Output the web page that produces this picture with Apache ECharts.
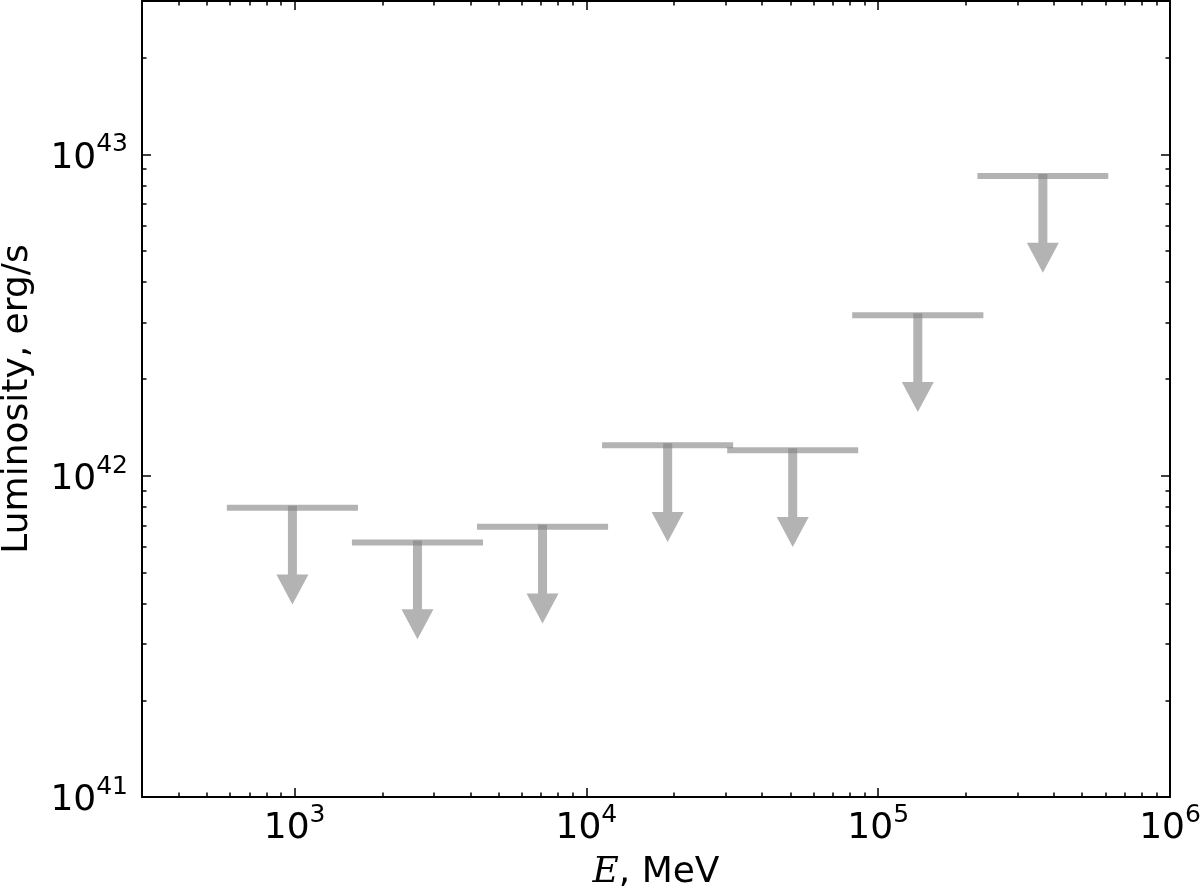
<!DOCTYPE html>
<html>
<head>
<meta charset="utf-8">
<script src="https://cdn.jsdelivr.net/npm/echarts@6/dist/echarts.min.js"></script>
<style>
html,body{margin:0;padding:0;background:#fff;}
#chart{width:1200px;height:889px;}
</style>
</head>
<body>
<div id="chart"></div>
<script>
// ---- data ----
const E_CENTER = [983, 2637, 7075, 18990, 50940, 136700, 366700];      // MeV
const E_LOW    = [600, 1610, 4320, 11590, 31100, 83400, 224000];        // MeV
const E_HIGH   = [1610, 4320, 11590, 31100, 83400, 224000, 600000];     // MeV
const L_UPPER  = [7.94e41, 6.19e41, 6.93e41, 1.244e42, 1.20e42, 3.155e42, 8.56e42]; // erg/s

const X_MAJOR = [1e3, 1e4, 1e5, 1e6];
const X_MINOR = [400,500,600,700,800,900, 2e3,3e3,4e3,5e3,6e3,7e3,8e3,9e3,
                 2e4,3e4,4e4,5e4,6e4,7e4,8e4,9e4, 2e5,3e5,4e5,5e5,6e5,7e5,8e5,9e5];
const Y_MAJOR = [1e41, 1e42, 1e43];
const Y_MINOR = [2e41,3e41,4e41,5e41,6e41,7e41,8e41,9e41, 2e42,3e42,4e42,5e42,6e42,7e42,8e42,9e42, 2e43,3e43];

const X_MIN = 300, X_MAX = 1e6, Y_MIN = 1e41, Y_MAX = 3e43;
const ARROW_FACTOR = 0.5;

const FONT = 'DejaVu Sans';
const data = E_CENTER.map((e, i) => [e, L_UPPER[i], E_LOW[i], E_HIGH[i]]);

const supRich = {
  b: {fontSize: 36, fontFamily: FONT, color: '#000', verticalAlign: 'bottom', lineHeight: 44},
  s: {fontSize: 25, fontFamily: FONT, color: '#000', verticalAlign: 'top', lineHeight: 20}
};
const fmt = v => '{b|10}{s|' + Math.round(Math.log10(v)) + '}';

function xAxis(pos, values, len, withLabel, showLine) {
  return {
    type: 'log', logBase: 10, min: X_MIN, max: X_MAX, position: pos,
    axisLine: {show: showLine, onZero: false, lineStyle: {color: '#000', width: 2}},
    axisTick: {show: true, inside: true, length: len, customValues: values, lineStyle: {color: '#000', width: 1.5}},
    axisLabel: withLabel ? {show: true, customValues: X_MAJOR, formatter: fmt, rich: supRich, margin: 6} : {show: false},
    splitLine: {show: false}, minorTick: {show: false},
    name: withLabel ? '{it|E}{n|, MeV}' : '',
    nameLocation: 'middle', nameGap: 58,
    nameTextStyle: {rich: {
      it: {fontFamily: 'DejaVu Serif', fontStyle: 'italic', fontSize: 36, color: '#000'},
      n: {fontFamily: FONT, fontSize: 36, color: '#000'}
    }}
  };
}
function yAxis(pos, values, len, withLabel, showLine) {
  return {
    type: 'log', logBase: 10, min: Y_MIN, max: Y_MAX, position: pos,
    axisLine: {show: showLine, onZero: false, lineStyle: {color: '#000', width: 2}},
    axisTick: {show: true, inside: true, length: len, customValues: values, lineStyle: {color: '#000', width: 1.5}},
    axisLabel: withLabel ? {show: true, customValues: Y_MAJOR, formatter: fmt, rich: supRich, margin: 14} : {show: false},
    splitLine: {show: false}, minorTick: {show: false},
    name: withLabel ? 'Luminosity, erg/s' : '',
    nameLocation: 'middle', nameGap: 106, nameRotate: 90,
    nameTextStyle: {fontFamily: FONT, fontSize: 36, color: '#000'}
  };
}

const chart = echarts.init(document.getElementById('chart'), null, {renderer: 'canvas'});
chart.setOption({
  animation: false,
  backgroundColor: '#fff',
  grid: {left: 142, top: 1, right: 30, bottom: 92, containLabel: false, outerBoundsMode: 'none'},
  xAxis: [
    xAxis('bottom', X_MAJOR, 9, true, true),
    xAxis('bottom', X_MINOR, 4.5, false, false),
    xAxis('top', X_MAJOR, 9, false, true),
    xAxis('top', X_MINOR, 4.5, false, false)
  ],
  yAxis: [
    yAxis('left', Y_MAJOR, 9, true, true),
    yAxis('left', Y_MINOR, 4.5, false, false),
    yAxis('right', Y_MAJOR, 9, false, true),
    yAxis('right', Y_MINOR, 4.5, false, false)
  ],
  series: [{
    type: 'custom',
    xAxisIndex: 0, yAxisIndex: 0,
    data: data,
    clip: false,
    renderItem: function (params, api) {
      const xc = api.value(0), y = api.value(1), lo = api.value(2), hi = api.value(3);
      const pC = api.coord([xc, y]);
      const pL = api.coord([lo, y]);
      const pH = api.coord([hi, y]);
      const pT = api.coord([xc, y * ARROW_FACTOR]);
      const col = 'rgba(128,128,128,0.6)';
      const sw = 4.5, hw = 16, hl = 30;
      const top = pC[1] - 2, tip = pT[1], base = tip - hl;
      const x = pC[0];
      return {
        type: 'group',
        children: [
          {type: 'line', shape: {x1: pL[0], y1: pL[1], x2: pH[0], y2: pH[1]},
           style: {stroke: col, lineWidth: 6, lineCap: 'square'}},
          {type: 'polygon', shape: {points: [
             [x - sw, top], [x + sw, top], [x + sw, base], [x + hw, base],
             [x, tip], [x - hw, base], [x - sw, base]]},
           style: {fill: col}}
        ]
      };
    }
  }]
});
</script>
</body>
</html>
